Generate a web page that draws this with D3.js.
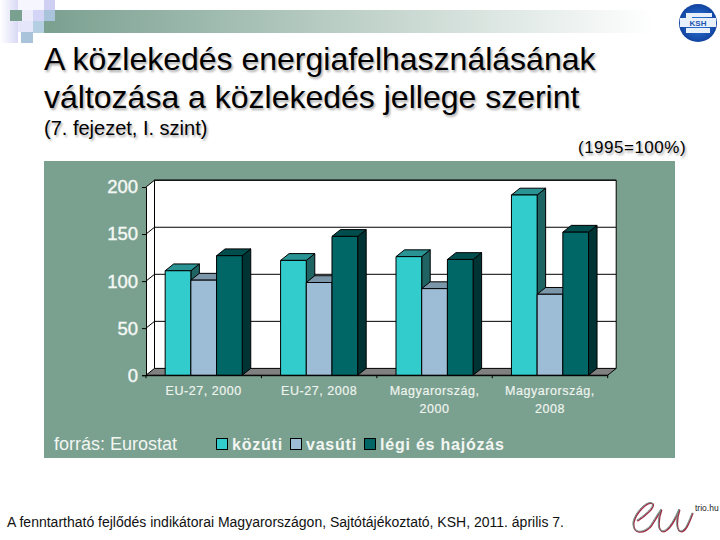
<!DOCTYPE html>
<html><head><meta charset="utf-8">
<script src="https://cdnjs.cloudflare.com/ajax/libs/d3/7.8.5/d3.min.js"></script>
<style>html,body{margin:0;padding:0;background:#fff}svg{display:block}text{font-family:"Liberation Sans",Arial,sans-serif}</style>
</head><body><div id="c"></div>
<script>
const categories = [["EU-27, 2000"],["EU-27, 2008"],["Magyarország,","2000"],["Magyarország,","2008"]];
const seriesNames = ["közúti","vasúti","légi és hajózás"];
const kozuti = [111,122,126,191.5];
const vasuti = [101,98.5,92,86];
const legi = [127,147.5,123,152];
const yTicks = [0,50,100,150,200];
const frontColors = ["#33cccc","#9dbdd6","#006666"];
const topColors = ["#2a9393","#7b96a8","#004d4d"];
const sideColors = ["#206363","#6b8496","#003333"];
const values = [kozuti,vasuti,legi];

const svg = d3.select("#c").append("svg").attr("width",720).attr("height",540);
const defs = svg.append("defs");
const grad = defs.append("linearGradient").attr("id","band");
grad.append("stop").attr("offset",0).attr("stop-color","#7aa090");
grad.append("stop").attr("offset",1).attr("stop-color","#ffffff");
const blur = defs.append("filter").attr("id","sh").attr("x","-5%").attr("y","-20%").attr("width","110%").attr("height","140%");
blur.append("feGaussianBlur").attr("stdDeviation",0.8);
const ksh = defs.append("radialGradient").attr("id","ksh").attr("cx","50%").attr("cy","50%").attr("r","55%");
ksh.append("stop").attr("offset",0).attr("stop-color","#2f7fe0");
ksh.append("stop").attr("offset",1).attr("stop-color","#0f3d9a");
const lav = defs.append("linearGradient").attr("id","lav");
lav.append("stop").attr("offset",0).attr("stop-color","#ffffff");
lav.append("stop").attr("offset",1).attr("stop-color","#d9d9f6");

// slide decoration
svg.append("rect").attr("x",44).attr("y",10).attr("width",610).attr("height",23).attr("fill","url(#band)");
[[0,0,18,43,"url(#lav)"],[18,0,26,10,"#f6f6fe"],[44,0,11,10,"#cfcff4"],[10,10,12,11,"#7aa090"],[22,10,11,11,"#ececfb"],[33,10,11,11,"#d4d4f6"],[44,10,11,11,"#a9c4da"],[18,21,15,11,"#e6e6fa"],[33,21,11,12,"#b4cfe2"],[21,32,12,11,"#a9c4da"]].forEach(d=>{
  svg.append("rect").attr("x",d[0]).attr("y",d[1]).attr("width",d[2]).attr("height",d[3]).attr("fill",d[4]);
});
svg.append("circle").attr("cx",698).attr("cy",23).attr("r",19).attr("fill","url(#ksh)");
svg.append("path").attr("d","M686 13 H712 V17 H692 V18 H686 Z M680 18 H716 V27 H680 Z M686 28 H710 V33 H686 Z").attr("fill","#e8f1fb");
svg.append("text").attr("x",698).attr("y",26).attr("text-anchor","middle").attr("font-size",8).attr("font-weight","bold").attr("fill","#1c55b0").text("KSH");

// titles
function shadowText(x,y,size,txt,ls){
  svg.append("text").attr("x",x+1.5).attr("y",y+1.5).attr("font-size",size).attr("letter-spacing",ls||0).attr("fill","#aaa").attr("filter","url(#sh)").text(txt);
  svg.append("text").attr("x",x).attr("y",y).attr("font-size",size).attr("letter-spacing",ls||0).attr("fill","#000").text(txt);
}
shadowText(44,70,32,"A közlekedés energiafelhasználásának");
shadowText(44,108,32,"változása a közlekedés jellege szerint");
shadowText(44,135,20,"(7. fejezet, I. szint)");
shadowText(578,153,17,"(1995=100%)",0.5);

// panel
svg.append("rect").attr("x",44).attr("y",161).attr("width",631).attr("height",297).attr("fill","#7aa090");

// chart geometry
const dx = 8.5, dy = -6.8;
const y = d3.scaleLinear().domain([0,200]).range([375.2,187]);
const x0 = d3.scaleBand().domain(d3.range(categories.length)).range([146,607.7]);
const bw = 25.7;
const inner = d3.scaleLinear().domain([0,3]).range([x0.bandwidth()/2-bw*1.5,x0.bandwidth()/2+bw*1.5]);

const g = svg.append("g");
const [L,R] = x0.range(), [Y0,Y200] = y.range();
// walls
g.append("path").attr("d",`M${L} ${Y200}L${L+dx} ${Y200+dy}H${R+dx}V${Y0+dy}H${L+dx}L${L} ${Y0}Z`).attr("fill","#fff");
// floor
g.append("path").attr("d",`M${L} ${Y0}L${L+dx} ${Y0+dy}H${R+dx}L${R} ${Y0}Z`).attr("fill","#808080").attr("stroke","#000").attr("stroke-width",1);
// grid
yTicks.slice(1).forEach(t=>{
  g.append("path").attr("d",`M${L} ${y(t)}L${L+dx} ${y(t)+dy}H${R+dx}`).attr("fill","none").attr("stroke","#000").attr("stroke-width",1);
});
g.append("path").attr("d",`M${L+dx} ${Y0+dy}V${Y200+dy}H${R+dx}V${Y0+dy}`).attr("fill","none").attr("stroke","#000").attr("stroke-width",1);

// bars
categories.forEach((c,i)=>{
  values.forEach((s,j)=>{
    const xa = x0(i)+inner(j), xb = xa+bw, yt = y(s[i]), yb = y(0);
    const st = {stroke:"#000","stroke-width":1,"stroke-linejoin":"round"};
    const side = g.append("path").attr("d",`M${xb} ${yt}L${xb+dx} ${yt+dy}V${yb+dy}L${xb} ${yb}Z`).attr("fill",sideColors[j]);
    const top = g.append("path").attr("d",`M${xa} ${yt}L${xa+dx} ${yt+dy}H${xb+dx}L${xb} ${yt}Z`).attr("fill",topColors[j]);
    const front = g.append("rect").attr("x",xa).attr("y",yt).attr("width",bw).attr("height",yb-yt).attr("fill",frontColors[j]);
    [side,top,front].forEach(m=>{for(const k in st)m.attr(k,st[k]);});
  });
});

// axes
const yAxis = g.append("g").attr("transform",`translate(${L},0)`).call(d3.axisLeft(y).tickValues(yTicks).tickSize(4).tickPadding(4).tickFormat(d3.format("d")));
yAxis.select(".domain").attr("stroke","#000");
yAxis.selectAll("line").attr("stroke","#000");
yAxis.selectAll("text").attr("font-size",18.5).attr("fill","#f4f8f4").attr("stroke","#f4f8f4").attr("stroke-width",0.4).attr("font-family","Liberation Sans");
const xAxis = g.append("g").attr("transform",`translate(0,${Y0})`).call(d3.axisBottom(x0).tickFormat("").tickSize(0));
xAxis.select(".domain").attr("stroke","#000");
x0.domain().concat([categories.length]).forEach(i=>{
  const px = i<categories.length ? x0(i) : R;
  xAxis.append("line").attr("x1",px).attr("x2",px).attr("y1",0).attr("y2",3).attr("stroke","#000");
});
categories.forEach((c,i)=>{
  const t = g.append("text").attr("text-anchor","middle").attr("font-size",12.5).attr("fill","#eef4ee").attr("stroke","#eef4ee").attr("stroke-width",0.2).attr("letter-spacing",0.55);
  c.forEach((ln,k)=>t.append("tspan").attr("x",x0(i)+x0.bandwidth()/2).attr("y",395+k*17.5).text(ln));
});

// legend + source
svg.append("text").attr("x",54).attr("y",450).attr("font-size",18).attr("fill","#f2f6f2").text("forrás: Eurostat");
const legendX = d3.scaleOrdinal().domain(seriesNames).range([216,290,364]);
seriesNames.forEach((n,j)=>{
  svg.append("rect").attr("x",legendX(n)+.5).attr("y",438.5).attr("width",11).attr("height",11).attr("fill",frontColors[j]).attr("stroke","#000");
  svg.append("text").attr("x",legendX(n)+16).attr("y",450).attr("font-size",16).attr("font-weight","bold").attr("letter-spacing",0.78).attr("fill","#f2f6f2").text(n);
});

// footer
svg.append("text").attr("x",7).attr("y",527).attr("font-size",14).attr("fill","#111").text("A fenntartható fejlődés indikátorai Magyarországon, Sajtótájékoztató, KSH, 2011. április 7.");

// eu logo
const eu = svg.append("g").attr("fill","none").attr("stroke-linecap","round");
[["#a03048",1.5,0.8],["#6f8f84",1,0]].forEach(([c,w,o])=>{
  eu.append("path").attr("transform",`translate(${o},${o})`).attr("stroke",c).attr("stroke-width",w)
    .attr("d","M637 520C645 515 655 506 652 503C647 500 635 512 633 522C632 533 642 534 650 526C654 520 658 513 661 509C658 517 656 531 663 531C670 529 675 517 679 509C676 518 675 531 681 531C686 530 689 520 692 513");
});
svg.append("text").attr("x",695).attr("y",511).attr("font-size",8.5).attr("fill","#222").text("trio.hu");
</script></body></html>
